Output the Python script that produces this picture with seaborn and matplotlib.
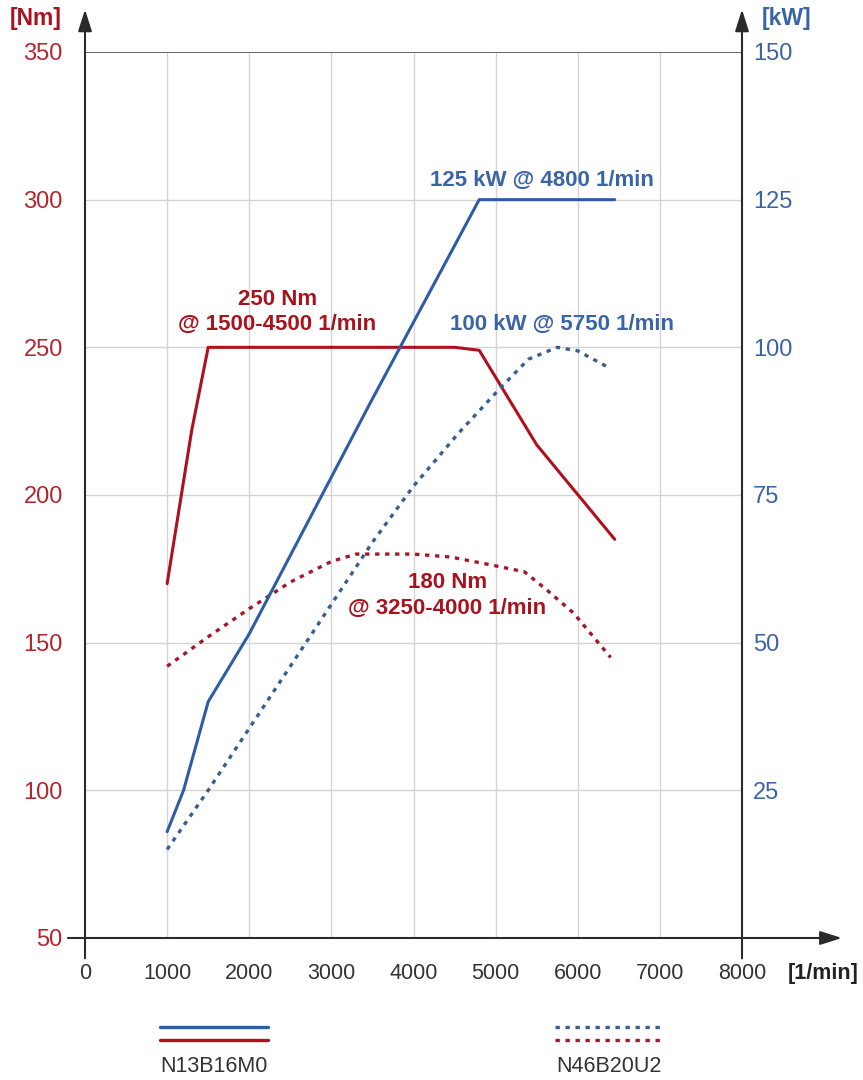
import matplotlib
matplotlib.use("Agg")
import matplotlib.pyplot as plt
import seaborn as sns
import pandas as pd
from matplotlib.lines import Line2D

# ---- data ----
n13_torque_rpm = [1000, 1300, 1500, 4500, 4800, 5500, 6450]
n13_torque_nm = [170, 222, 250, 250, 249, 217, 185]
n13_power_rpm = [1000, 1200, 1500, 2000, 3470, 4800, 6450]
n13_power_kw = [18, 25, 40, 51.5, 90.5, 125, 125]
n46_torque_rpm = [1000, 1500, 2000, 2500, 3000, 3300, 4000, 4450, 4950, 5350, 5600, 5950, 6400]
n46_torque_nm = [142, 152, 161.5, 170.5, 177.5, 180, 180, 179, 176.3, 174, 168.4, 160, 145]
n46_power_rpm = [1000, 1500, 2000, 2500, 3000, 3500, 4000, 4550, 5050, 5400, 5750, 6000, 6400]
n46_power_kw = [15, 25, 35.5, 46, 56.5, 67, 76.5, 85.5, 93, 98, 100, 99.4, 96.4]

x_ticks = [0, 1000, 2000, 3000, 4000, 5000, 6000, 7000, 8000]
nm_ticks = [50, 100, 150, 200, 250, 300, 350]
kw_ticks = [25, 50, 75, 100, 125, 150]
legend_names = ["N13B16M0", "N46B20U2"]

RED = "#B0101E"
BLUE = "#2F5DA5"
RED_DOT = "#A3182A"
BLUE_DOT = "#3A5F8F"
RED_TXT = "#A8141E"
BLUE_TXT = "#3A64A8"

sns.set_theme(style="white")
plt.rcParams["font.family"] = ["Liberation Sans", "DejaVu Sans"]

W, H = 863, 1080
fig = plt.figure(figsize=(W / 100, H / 100), dpi=100)
L, R, T, B = 85, 742, 52, 938
ax = fig.add_axes([L / W, 1 - B / H, (R - L) / W, (B - T) / H])
ax2 = ax.twinx()

ax.set_xlim(0, 8000)
ax.set_ylim(50, 350)
ax2.set_ylim(0, 150)
ax2.set_position(ax.get_position())

for a in (ax, ax2):
    for s in a.spines.values():
        s.set_visible(False)

# grid
for xv in x_ticks[1:-1]:
    ax.axvline(xv, color="#d4d4d4", lw=1.0, zorder=0)
for yv in nm_ticks[1:-1]:
    ax.axhline(yv, color="#d4d4d4", lw=1.0, zorder=0)
ax.axhline(350, color="#5a5a5a", lw=1.3, zorder=1)

dotted = (0, (1.3, 1.7))
df1 = pd.DataFrame({"rpm": n13_torque_rpm, "nm": n13_torque_nm})
df2 = pd.DataFrame({"rpm": n46_torque_rpm, "nm": n46_torque_nm})
df3 = pd.DataFrame({"rpm": n13_power_rpm, "kw": n13_power_kw})
df4 = pd.DataFrame({"rpm": n46_power_rpm, "kw": n46_power_kw})

sns.lineplot(data=df2, x="rpm", y="nm", ax=ax, color=RED_DOT, lw=2.4, linestyle=dotted, zorder=3)
sns.lineplot(data=df1, x="rpm", y="nm", ax=ax, color=RED, lw=2.2, zorder=3)
sns.lineplot(data=df4, x="rpm", y="kw", ax=ax2, color=BLUE_DOT, lw=2.4, linestyle=dotted, zorder=3)
sns.lineplot(data=df3, x="rpm", y="kw", ax=ax2, color=BLUE, lw=2.2, zorder=3)
for a in (ax, ax2):
    a.set_xlabel("")
    a.set_ylabel("")
    if a.get_legend():
        a.get_legend().remove()

# ticks
ax.set_xticks(x_ticks)
ax.set_xticklabels([str(v) for v in x_ticks], fontsize=15.5, color="#333333")
ax.tick_params(axis="x", length=0, pad=18)
ax.set_yticks(nm_ticks)
ax.set_yticklabels([str(v) for v in nm_ticks], fontsize=17, color="#B3262E")
ax.tick_params(axis="y", length=0, pad=16)
ax2.set_yticks(kw_ticks)
ax2.set_yticklabels([str(v) for v in kw_ticks], fontsize=17, color="#3D63A3")
ax2.tick_params(axis="y", length=0, pad=8)
ax2.grid(False)
ax.grid(False)

# axes arrows
arrow_kw = dict(arrowstyle="-|>,head_length=1.1,head_width=0.35", color="#2a2a2a", lw=1.5,
                shrinkA=0, shrinkB=0)
ax.annotate("", xy=(0, 1.048), xytext=(0, -0.023), xycoords="axes fraction",
            textcoords="axes fraction", arrowprops=arrow_kw, annotation_clip=False)
ax.annotate("", xy=(1, 1.048), xytext=(1, -0.023), xycoords="axes fraction",
            textcoords="axes fraction", arrowprops=arrow_kw, annotation_clip=False)
ax.annotate("", xy=(1.152, 0), xytext=(-0.026, 0), xycoords="axes fraction",
            textcoords="axes fraction", arrowprops=arrow_kw, annotation_clip=False)

# unit labels
fig.text(36 / W, 1 - 18 / H, "[Nm]", color=RED_TXT, fontsize=16.5, fontweight="bold",
         ha="center", va="center")
fig.text(787 / W, 1 - 18 / H, "[kW]", color=BLUE_TXT, fontsize=16.5, fontweight="bold",
         ha="center", va="center")
fig.text(823 / W, 1 - 973 / H, "[1/min]", color="#222222", fontsize=15.5, fontweight="bold",
         ha="center", va="center")

# annotations
ax2.text(5565, 128.2, "125 kW @ 4800 1/min", color=BLUE_TXT, fontsize=16,
         fontweight="bold", ha="center", va="center")
ax2.text(5810, 103.8, "100 kW @ 5750 1/min", color=BLUE_TXT, fontsize=16,
         fontweight="bold", ha="center", va="center")
ax.text(2340, 262, "250 Nm\n@ 1500-4500 1/min", color=RED_TXT, fontsize=16,
        fontweight="bold", ha="center", va="center", linespacing=1.25)
ax.text(4410, 166, "180 Nm\n@ 3250-4000 1/min", color=RED_TXT, fontsize=16,
        fontweight="bold", ha="center", va="center", linespacing=1.25)

# legend
def fig_line(x0, x1, y, color, ls):
    fig.add_artist(Line2D([x0 / W, x1 / W], [1 - y / H, 1 - y / H], transform=fig.transFigure,
                          color=color, lw=2.4, linestyle=ls))

fig_line(160, 268, 1027, BLUE, "-")
fig_line(160, 268, 1040, RED, "-")
fig_line(555, 663, 1027, BLUE_DOT, dotted)
fig_line(555, 663, 1040, RED_DOT, dotted)
fig.text(214 / W, 1 - 1066 / H, legend_names[0], fontsize=15.5, color="#333333",
         ha="center", va="center")
fig.text(609 / W, 1 - 1066 / H, legend_names[1], fontsize=15.5, color="#333333",
         ha="center", va="center")

fig.savefig("out.png", dpi=100, facecolor="white")
